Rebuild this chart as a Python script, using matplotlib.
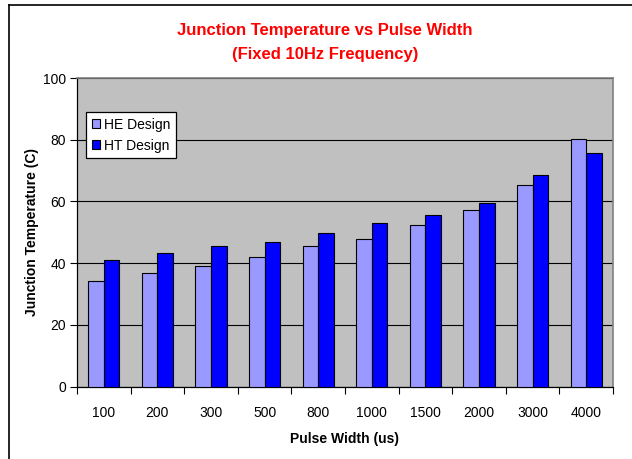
import matplotlib
matplotlib.use("Agg")
import matplotlib.pyplot as plt
from matplotlib.lines import Line2D
import numpy as np

plt.rcParams['font.family'] = ['Liberation Sans', 'DejaVu Sans']

pulse_widths = ["100", "200", "300", "500", "800", "1000", "1500", "2000", "3000", "4000"]
he_design = [34.1, 36.7, 38.9, 41.9, 45.6, 47.7, 52.4, 57.3, 65.3, 80.1]
ht_design = [41.0, 43.3, 45.6, 46.9, 49.8, 53.0, 55.7, 59.4, 68.7, 75.6]

fig = plt.figure(figsize=(6.32, 4.59), dpi=100)
ax = fig.add_axes([77 / 632, 1 - 386.5 / 459, 536 / 632, 308.5 / 459])
ax.set_facecolor('#c0c0c0')

x = np.arange(len(pulse_widths))
w = 0.29
ax.bar(x - w / 2, he_design, w, color='#9999ff', edgecolor='black', linewidth=0.8,
       label='HE Design', zorder=3)
ax.bar(x + w / 2, ht_design, w, color='#0000ff', edgecolor='black', linewidth=0.8,
       label='HT Design', zorder=3)

ax.set_xlim(-0.5, len(pulse_widths) - 0.5)
ax.set_ylim(0, 100)
ax.set_yticks(range(0, 101, 20))
ax.yaxis.grid(True, color='black', linewidth=0.8, zorder=1)
ax.set_axisbelow(True)

# category labels centred, tick marks between categories
ax.set_xticks(x)
ax.set_xticklabels(pulse_widths, fontsize=10)
ax.tick_params(axis='x', length=0, pad=14)
ax.set_xticks(np.arange(-0.5, len(pulse_widths)), minor=True)
ax.tick_params(axis='x', which='minor', length=5, width=0.8, direction='out')
ax.tick_params(axis='y', labelsize=10, length=5, width=0.8, direction='out', pad=3)

for side in ('top', 'right'):
    ax.spines[side].set_color('#808080')
    ax.spines[side].set_linewidth(1.2)
ax.spines['left'].set_linewidth(0.9)
ax.spines['bottom'].set_linewidth(0.9)

ax.set_xlabel('Pulse Width (us)', fontsize=10, fontweight='bold', labelpad=9)
ax.set_ylabel('Junction Temperature (C)', fontsize=10, fontweight='bold', labelpad=3)

leg = ax.legend(loc='upper left', bbox_to_anchor=(9 / 536, 1 - 34 / 308.5), fontsize=10,
                frameon=True, fancybox=False, framealpha=1, edgecolor='black',
                handlelength=0.6, handleheight=0.6, handletextpad=0.3,
                borderpad=0.4, labelspacing=0.5, borderaxespad=0)
leg.get_frame().set_linewidth(0.9)

fig.text(325 / 632, 1 - 31 / 459, 'Junction Temperature vs Pulse Width',
         color='#ff0000', fontsize=12, fontweight='bold', ha='center', va='center')
fig.text(325 / 632, 1 - 55 / 459, '(Fixed 10Hz Frequency)',
         color='#ff0000', fontsize=12, fontweight='bold', ha='center', va='center')

# outer frame on left and top
fig.add_artist(Line2D([9 / 632, 9 / 632], [0, 1 - 5 / 459], transform=fig.transFigure,
                      color='black', linewidth=1.2))
fig.add_artist(Line2D([9 / 632, 1], [1 - 5 / 459, 1 - 5 / 459], transform=fig.transFigure,
                      color='black', linewidth=1.2))

fig.savefig('out.png', dpi=100)
